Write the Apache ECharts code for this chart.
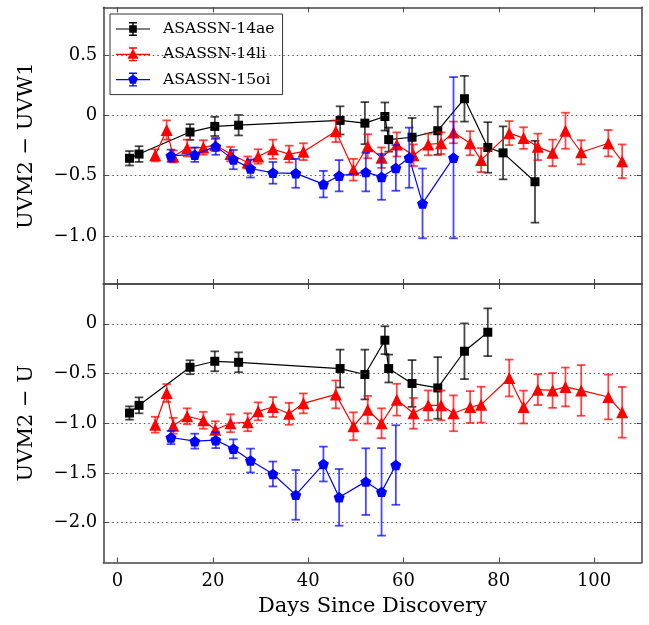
<!DOCTYPE html>
<html><head><meta charset="utf-8">
<script src="https://cdn.jsdelivr.net/npm/echarts@6/dist/echarts.min.js"></script>
<style>html,body{margin:0;padding:0;background:#fff}#c{width:649px;height:625px}</style>
</head><body><div id="c"></div>
<script>
// ---- data ----
const names = ['ASASSN-14ae', 'ASASSN-14li', 'ASASSN-15oi'];
const xTicks = [0, 20, 40, 60, 80, 100];
const y1Ticks = [-1.0, -0.5, 0, 0.5];
const y2Ticks = [-2.0, -1.5, -1.0, -0.5, 0];

const aeDaysTop = [2.5, 4.5, 15.2, 20.4, 25.4, 46.7, 51.9, 56.1, 56.9, 61.8, 67.2, 72.8, 77.7, 80.9, 87.6];
const aeTop     = [-0.355, -0.32, -0.137, -0.09, -0.08, -0.04, -0.063, -0.008, -0.2, -0.18, -0.126, 0.14, -0.265, -0.31, -0.55];
const aeTopErr  = [0.06, 0.065, 0.065, 0.08, 0.085, 0.117, 0.175, 0.117, 0.1, 0.16, 0.2, 0.19, 0.21, 0.22, 0.34];
const aeDaysBot = [2.5, 4.5, 15.2, 20.4, 25.4, 46.7, 51.9, 56.1, 56.9, 61.8, 67.2, 72.8, 77.7];
const aeBot     = [-0.897, -0.82, -0.437, -0.377, -0.387, -0.45, -0.51, -0.165, -0.45, -0.60, -0.645, -0.276, -0.085];
const aeBotErr  = [0.067, 0.08, 0.07, 0.1, 0.1, 0.19, 0.25, 0.14, 0.14, 0.235, 0.31, 0.28, 0.24];

const liDays   = [7.9, 10.3, 11.7, 14.6, 18.0, 20.5, 23.7, 27.3, 29.5, 32.6, 36.0, 39.0, 45.8, 49.5, 52.5, 55.4, 58.6, 62.1, 65.2, 67.9, 70.5, 74.0, 76.3, 82.2, 85.2, 88.2, 91.3, 94.0, 97.3, 103.0, 105.9];
const liTop    = [-0.33, -0.12, -0.34, -0.27, -0.265, -0.245, -0.32, -0.39, -0.34, -0.28, -0.32, -0.30, -0.13, -0.45, -0.255, -0.35, -0.24, -0.33, -0.24, -0.23, -0.14, -0.23, -0.37, -0.146, -0.187, -0.26, -0.31, -0.126, -0.305, -0.23, -0.38];
const liTopErr = [0.05, 0.08, 0.05, 0.07, 0.06, 0.05, 0.06, 0.05, 0.06, 0.08, 0.07, 0.07, 0.09, 0.09, 0.1, 0.085, 0.1, 0.09, 0.09, 0.09, 0.09, 0.1, 0.1, 0.1, 0.09, 0.11, 0.11, 0.15, 0.1, 0.11, 0.14];
const liBot    = [-1.015, -0.696, -1.025, -0.93, -0.97, -1.065, -1.0, -0.99, -0.88, -0.837, -0.905, -0.8, -0.71, -1.03, -0.864, -1.0, -0.763, -0.9, -0.82, -0.82, -0.9, -0.837, -0.813, -0.545, -0.837, -0.662, -0.67, -0.635, -0.67, -0.736, -0.89];
const liBotErr = [0.08, 0.09, 0.08, 0.08, 0.085, 0.085, 0.09, 0.09, 0.09, 0.1, 0.11, 0.1, 0.14, 0.14, 0.14, 0.15, 0.16, 0.155, 0.15, 0.15, 0.18, 0.16, 0.18, 0.185, 0.165, 0.155, 0.175, 0.195, 0.255, 0.225, 0.255];

const oiDaysTop = [11.2, 16.2, 20.6, 24.3, 27.9, 32.6, 37.4, 43.2, 46.5, 52.1, 55.4, 58.4, 61.2, 64.0, 70.5];
const oiTop     = [-0.333, -0.325, -0.256, -0.366, -0.44, -0.476, -0.48, -0.57, -0.50, -0.47, -0.51, -0.435, -0.35, -0.73, -0.35];
const oiTopErr  = [0.05, 0.06, 0.07, 0.08, 0.075, 0.09, 0.12, 0.11, 0.13, 0.16, 0.19, 0.19, 0.25, 0.29, 0.67];
const oiDaysBot = [11.2, 16.2, 20.6, 24.3, 27.9, 32.6, 37.4, 43.2, 46.5, 52.1, 55.4, 58.4];
const oiBot     = [-1.143, -1.18, -1.17, -1.257, -1.375, -1.51, -1.72, -1.41, -1.745, -1.587, -1.69, -1.42];
const oiBotErr  = [0.067, 0.075, 0.08, 0.095, 0.12, 0.125, 0.25, 0.175, 0.285, 0.335, 0.44, 0.4];

// ---- styling ----
const FONT = 'DejaVu Serif';
const AXC = '#444';
const colors = ['#000000', '#ff0000', '#0000ff'];
const errColors = ['rgba(0,0,0,0.72)', 'rgba(255,0,0,0.72)', 'rgba(0,0,255,0.72)'];
const pentagon = 'path://M0,-1L0.951,-0.309L0.588,0.809L-0.588,0.809L-0.951,-0.309Z';
const symbols = ['rect', 'triangle', pentagon];
const symSizes = [9, 12, 11];

const legBase = 'M0 6.4h34v1.2H0z M16.3 0h1.4v14h-1.4z M13 0h8v1.4h-8z M13 12.6h8v1.4h-8z ';
const legIcons = [
  'path://' + legBase + 'M13.2 3.2h7.6v7.6h-7.6z',
  'path://' + legBase + 'M17 1.5L22.5 11.5H11.5z',
  'path://' + legBase + 'M17 2L21.76 5.45L19.94 11.05L14.06 11.05L12.24 5.45z'
];

function fmt(v) { return v === 0 ? '0' : v.toFixed(1).replace('-', '\u2212'); }

function xAx(grid, pos, labels, name) {
  return {
    type: 'value', gridIndex: grid, position: pos, min: -3, max: 110,
    axisLine: { show: true, onZero: false, lineStyle: { color: AXC, width: 1.5 } },
    axisTick: { show: true, inside: true, length: 5, customValues: xTicks, lineStyle: { color: AXC, width: 1 } },
    axisLabel: { show: labels, customValues: xTicks, margin: 10, color: '#000', fontFamily: FONT, fontSize: 18, formatter: v => String(v) },
    splitLine: { show: false },
    name: name || '', nameLocation: 'middle', nameGap: 34,
    nameTextStyle: { color: '#000', fontFamily: FONT, fontSize: 21 }
  };
}
function yAx(grid, pos, min, max, ticks, labels, name) {
  return {
    type: 'value', gridIndex: grid, position: pos, min: min, max: max,
    axisLine: { show: true, onZero: false, lineStyle: { color: AXC, width: 1.5 } },
    axisTick: { show: true, inside: true, length: 5, customValues: ticks, lineStyle: { color: AXC, width: 1 } },
    axisLabel: { show: labels, customValues: ticks, margin: 6, color: '#000', fontFamily: FONT, fontSize: 18, formatter: fmt },
    splitLine: { show: false },
    name: name || '', nameLocation: 'middle', nameGap: 66,
    nameTextStyle: { color: '#000', fontFamily: FONT, fontSize: 21 }
  };
}

function errSeries(days, vals, errs, k, xi, yi) {
  return {
    type: 'custom', xAxisIndex: xi, yAxisIndex: yi, z: 2 + 2 * k, silent: true,
    data: days.map((d, i) => [d, vals[i], errs[i]]),
    encode: { x: 0, y: 1 },
    renderItem: function (params, api) {
      const x = api.value(0), y = api.value(1), e = api.value(2);
      const t = api.coord([x, y + e]), b = api.coord([x, y - e]);
      const hw = 4.3;
      const st = { stroke: errColors[k], lineWidth: 1.8 };
      return {
        type: 'group', children: [
          { type: 'line', shape: { x1: t[0], y1: t[1], x2: b[0], y2: b[1] }, style: st },
          { type: 'line', shape: { x1: t[0] - hw, y1: t[1], x2: t[0] + hw, y2: t[1] }, style: st },
          { type: 'line', shape: { x1: b[0] - hw, y1: b[1], x2: b[0] + hw, y2: b[1] }, style: st }
        ]
      };
    }
  };
}
function lineSeries(days, vals, k, xi, yi, grids) {
  const s = {
    type: 'line', name: names[k], xAxisIndex: xi, yAxisIndex: yi, z: 3 + 2 * k,
    data: days.map((d, i) => [d, vals[i]]),
    symbol: symbols[k], symbolSize: symSizes[k], symbolKeepAspect: true, showSymbol: true,
    lineStyle: { color: colors[k], width: 1.2 },
    itemStyle: { color: colors[k], borderWidth: 0 },
    emphasis: { disabled: true }
  };
  if (grids) {
    s.markLine = {
      silent: true, symbol: ['none', 'none'], label: { show: false }, animation: false,
      lineStyle: { type: [1.5, 3], color: '#555', width: 1 },
      data: grids.map(v => ({ yAxis: v }))
    };
  }
  return s;
}

const series = [
  errSeries(aeDaysTop, aeTop, aeTopErr, 0, 0, 0),
  lineSeries(aeDaysTop, aeTop, 0, 0, 0, y1Ticks),
  errSeries(liDays, liTop, liTopErr, 1, 0, 0),
  lineSeries(liDays, liTop, 1, 0, 0),
  errSeries(oiDaysTop, oiTop, oiTopErr, 2, 0, 0),
  lineSeries(oiDaysTop, oiTop, 2, 0, 0),
  errSeries(aeDaysBot, aeBot, aeBotErr, 0, 2, 2),
  lineSeries(aeDaysBot, aeBot, 0, 2, 2, y2Ticks),
  errSeries(liDays, liBot, liBotErr, 1, 2, 2),
  lineSeries(liDays, liBot, 1, 2, 2),
  errSeries(oiDaysBot, oiBot, oiBotErr, 2, 2, 2),
  lineSeries(oiDaysBot, oiBot, 2, 2, 2)
];

const chart = echarts.init(document.getElementById('c'), null, { renderer: 'canvas' });
chart.setOption({
  animation: false,
  backgroundColor: '#fff',
  grid: [
    { left: 103.3, top: 7.3, width: 538.4, height: 276.7, containLabel: false },
    { left: 103.3, top: 284, width: 538.4, height: 278.5, containLabel: false }
  ],
  xAxis: [
    xAx(0, 'bottom', false),
    xAx(0, 'top', false),
    xAx(1, 'bottom', true, 'Days Since Discovery'),
    xAx(1, 'top', false)
  ],
  yAxis: [
    yAx(0, 'left', -1.4, 0.9, y1Ticks, true, 'UVM2 \u2212 UVW1'),
    yAx(0, 'right', -1.4, 0.9, y1Ticks, false),
    yAx(1, 'left', -2.4, 0.4, y2Ticks, true, 'UVM2 \u2212 U'),
    yAx(1, 'right', -2.4, 0.4, y2Ticks, false)
  ],
  legend: {
    orient: 'vertical', left: 110, top: 14,
    data: names.map((n, k) => ({ name: n, icon: legIcons[k] })),
    itemWidth: 34, itemHeight: 14, itemGap: 9.3, symbolKeepAspect: true,
    padding: [7, 8, 7, 6],
    backgroundColor: '#fff', borderColor: '#333', borderWidth: 1, borderRadius: 0,
    textStyle: { color: '#000', fontFamily: FONT, fontSize: 15.6, padding: [0, 0, 0, 8] },
    selectedMode: false
  },
  series: series
});
</script>
</body></html>
